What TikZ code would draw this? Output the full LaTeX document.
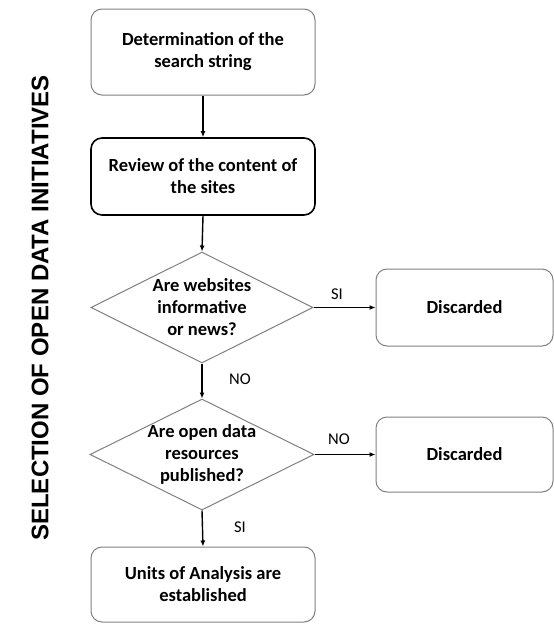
\documentclass[tikz,border=0pt]{standalone}
\usepackage{fontspec}
\setmainfont{Carlito}
\newfontfamily\arialfont{Liberation Sans}
\usetikzlibrary{shapes.geometric,arrows.meta}
\definecolor{boxgray}{HTML}{808080}
\begin{document}
\begin{tikzpicture}[x=1pt,y=-1pt,
  boxfont/.style={font=\fontsize{18.5}{22}\selectfont\bfseries},
  procbox/.style={draw=boxgray,line width=1pt,rounded corners=11pt,align=center,
    boxfont,inner sep=0pt,minimum width=224pt},
  boldbox/.style={procbox,draw=black,line width=1.6pt},
  decision/.style={diamond,draw=boxgray,line width=1pt,inner sep=0pt},
  dtext/.style={align=center,boxfont,inner sep=0pt},
  flow/.style={draw=black,line width=1.4pt,-{Latex[length=6pt,width=5pt]}},
  lbl/.style={font=\fontsize{16.5}{19}\selectfont}
]
\useasboundingbox (0,0) rectangle (554,624);
\fill[white] (0,0) rectangle (554,624);

\node[procbox,minimum height=86pt] (b1) at (203,52) {Determination of the\\search string};
\node[boldbox,minimum height=77pt] (b2) at (203,176.5) {Review of the content of\\the sites};
\node[decision,minimum width=222pt,minimum height=111pt] (d1) at (202,307.5) {};
\node[dtext] (d1t) at (d1.center) {Are websites\\informative\\or news?};
\node[procbox,minimum width=177pt,minimum height=77pt] (x1) at (464.5,307.5) {Discarded};
\node[decision,minimum width=224pt,minimum height=111pt] (d2) at (202,454.5) {};
\node[dtext] (d2t) at (d2.center) {Are open data\\resources\\published?};
\node[procbox,minimum width=177pt,minimum height=75pt] (x2) at (464.5,454.5) {Discarded};
\node[procbox,minimum height=75pt] (b3) at (203,584.5) {Units of Analysis are\\established};

\node[rotate=90,font=\arialfont\fontsize{24}{28}\selectfont\bfseries] (side) at (40,308) {SELECTION OF OPEN DATA INITIATIVES};

\draw[flow] (b1.south) -- (b2.north);
\draw[flow] (b2.south) -- (d1.north);
\draw[flow] (d1.east) -- (x1.west);
\draw[flow] (d1.south) -- (d2.north);
\draw[flow] (d2.east) -- (x2.west);
\draw[flow] (d2.south) -- (b3.north);

\node[lbl] (l1) at (337,294) {SI};
\node[lbl] (l2) at (240,379) {NO};
\node[lbl] (l3) at (339,439) {NO};
\node[lbl] (l4) at (240,527) {SI};
\end{tikzpicture}
\end{document}
